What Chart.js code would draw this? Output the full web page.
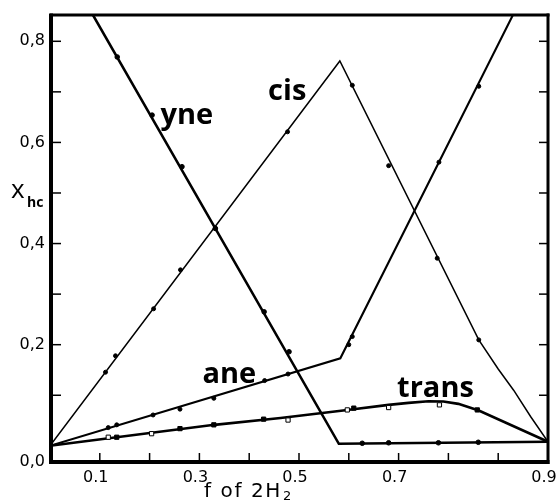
<!DOCTYPE html>
<html><head><meta charset="utf-8">
<script src="https://cdn.jsdelivr.net/npm/chart.js@4/dist/chart.umd.min.js"></script>
<style>html,body{margin:0;padding:0;background:#fff}canvas{display:block}</style>
</head><body>
<canvas id="c" width="559" height="500"></canvas>
<script>
// ---- data ----
const yneLineX = [0, 0.58, 1.0];
const yneLineY = [1.0, 0.004, 0.008];
const ynePtsX = [0.135, 0.205, 0.265, 0.332, 0.43, 0.48, 0.627, 0.68, 0.78, 0.86];
const ynePtsY = [0.769, 0.654, 0.552, 0.43, 0.265, 0.186, 0.005, 0.006, 0.006, 0.007];

const cisLineX = [0, 0.582, 0.861, 0.9, 0.931, 0.965, 1.0];
const cisLineY = [0, 0.761, 0.2095, 0.152, 0.11, 0.058, 0.008];
const cisPtsX = [0.1115, 0.1315, 0.208, 0.262, 0.332, 0.477, 0.607, 0.68, 0.7775, 0.861];
const cisPtsY = [0.1456, 0.178, 0.271, 0.348, 0.43, 0.621, 0.713, 0.554, 0.371, 0.2095];

const aneLineX = [0, 0.583, 1.0];
const aneLineY = [0, 0.173, 0.99];
const anePtsX = [0.117, 0.134, 0.207, 0.261, 0.329, 0.431, 0.478, 0.6, 0.607, 0.781, 0.861];
const anePtsY = [0.036, 0.0415, 0.061, 0.0725, 0.094, 0.129, 0.142, 0.2, 0.216, 0.561, 0.711];

const transLineX = [0, 0.33, 0.463, 0.597, 0.68, 0.72, 0.76, 0.79, 0.82, 0.861, 1.0];
const transLineY = [0, 0.0415, 0.055, 0.071, 0.081, 0.085, 0.088, 0.0875, 0.083, 0.0698, 0.008];
const transOpenX = [0.117, 0.204, 0.478, 0.597, 0.68, 0.782];
const transOpenY = [0.017, 0.024, 0.051, 0.071, 0.0757, 0.081];
const transFilledX = [0.134, 0.261, 0.329, 0.429, 0.61, 0.858];
const transFilledY = [0.017, 0.034, 0.0415, 0.0527, 0.0745, 0.071];

const xTickValues = [0.1, 0.2, 0.3, 0.4, 0.5, 0.6, 0.7, 0.8, 0.9, 1.0];
const xTickLabels = ["0.1", "", "0.3", "", "0.5", "", "0.7", "", "", "0.9"];
const yTickValues = [-0.032, 0.1, 0.2, 0.3, 0.4, 0.5, 0.6, 0.7, 0.8];
const yTickLabels = ["0,0", "", "0,2", "", "0,4", "", "0,6", "", "0,8"];

const seriesNames = ["yne", "cis", "ane", "trans"];
// ---- end data ----

const zip = (xs, ys) => xs.map((v, i) => ({x: v, y: ys[i]}));

function lineDs(xs, ys, w) {
  return {data: zip(xs, ys), showLine: true, borderColor: '#000', borderWidth: w,
          pointRadius: 0, fill: false, order: 2};
}
function ptsDs(xs, ys, style, r, bg) {
  return {data: zip(xs, ys), showLine: false, pointStyle: style, pointRadius: r,
          backgroundColor: bg, borderColor: '#000', borderWidth: 1, order: 1};
}

const labelAnchors = {yne: [0.222, 0.636], cis: [0.438, 0.684], ane: [0.306, 0.1245], trans: [0.697, 0.097]};

const decor = {
  id: 'decor',
  afterDraw(chart) {
    const {ctx, chartArea: a, scales: {x, y}} = chart;
    const seg = (x1, y1, x2, y2) => { ctx.beginPath(); ctx.moveTo(x1, y1); ctx.lineTo(x2, y2); ctx.stroke(); };
    ctx.save();
    ctx.strokeStyle = '#000';
    ctx.fillStyle = '#000';
    ctx.lineWidth = 1.5;
    xTickValues.forEach(v => { if (v >= 1) return; const p = x.getPixelForValue(v); seg(p, a.bottom, p, a.bottom - 9); });
    yTickValues.forEach(v => { if (v <= 0) return; const p = y.getPixelForValue(v); seg(a.left, p, a.left + 11, p); seg(a.right, p, a.right - 9, p); });
    ctx.lineWidth = 4;
    seg(a.left + 1, a.top - 1.5, a.left + 1, a.bottom + 2);
    seg(a.left - 1, a.bottom, a.right + 1.5, a.bottom);
    ctx.lineWidth = 3;
    seg(a.left, a.top, a.right + 1.5, a.top);
    seg(a.right, a.top - 1.5, a.right, a.bottom + 2);

    ctx.textAlign = 'left';
    ctx.textBaseline = 'alphabetic';
    ctx.font = '700 29px "Open Sans"';
    seriesNames.forEach(n => {
      const [lx, ly] = labelAnchors[n];
      ctx.fillText(n, x.getPixelForValue(lx), y.getPixelForValue(ly));
    });
    // y axis title
    ctx.font = '400 26px "Open Sans"';
    ctx.fillText('x', 11, 198);
    ctx.font = '700 14px "Open Sans"';
    ctx.fillText('hc', 27, 207);
    // x axis title
    ctx.font = '400 20px "DejaVu Sans"';
    try { ctx.letterSpacing = '1.6px'; } catch (e) {}
    ctx.fillText('f of 2H', 204, 497);
    try { ctx.letterSpacing = '0px'; } catch (e) {}
    ctx.font = '400 13px "DejaVu Sans"';
    ctx.fillText('2', 283, 500);
    ctx.restore();
  }
};

new Chart(document.getElementById('c'), {
  type: 'scatter',
  data: {datasets: [
    lineDs(yneLineX, yneLineY, 2.6),
    lineDs(cisLineX, cisLineY, 1.5),
    lineDs(aneLineX, aneLineY, 2.1),
    lineDs(transLineX, transLineY, 2.6),
    ptsDs(ynePtsX, ynePtsY, 'circle', 2.3, '#000'),
    ptsDs(cisPtsX, cisPtsY, 'circle', 2, '#000'),
    ptsDs(anePtsX, anePtsY, 'circle', 2, '#000'),
    ptsDs(transOpenX, transOpenY, 'rect', 3, '#fff'),
    ptsDs(transFilledX, transFilledY, 'rect', 3, '#000'),
  ]},
  options: {
    responsive: false,
    animation: false,
    devicePixelRatio: 1,
    layout: {padding: {top: 15, right: 11, left: 0, bottom: 0}},
    plugins: {legend: {display: false}, tooltip: {enabled: false}},
    elements: {line: {tension: 0}},
    scales: {
      x: {
        type: 'linear', min: 0, max: 1.0,
        afterBuildTicks: s => { s.ticks = xTickValues.map(v => ({value: v})); },
        afterFit: s => { s.height = 38; s.paddingLeft = 0; s.paddingRight = 0; },
        grid: {display: false, drawTicks: false},
        border: {display: false},
        ticks: {
          autoSkip: false, maxRotation: 0, padding: 6, labelOffset: -4, color: '#000',
          font: {family: 'DejaVu Sans', size: 16},
          callback: (v, i) => xTickLabels[i]
        }
      },
      y: {
        type: 'linear', min: -0.032, max: 0.852,
        afterBuildTicks: s => { s.ticks = yTickValues.map(v => ({value: v})); },
        afterFit: s => { s.width = 50; s.paddingTop = 0; s.paddingBottom = 0; },
        grid: {display: false, drawTicks: false},
        border: {display: false},
        ticks: {
          autoSkip: false, padding: 5, color: '#000',
          font: {family: 'DejaVu Sans', size: 16},
          callback: (v, i) => yTickLabels[i]
        }
      }
    }
  },
  plugins: [decor]
});
</script>
</body></html>
